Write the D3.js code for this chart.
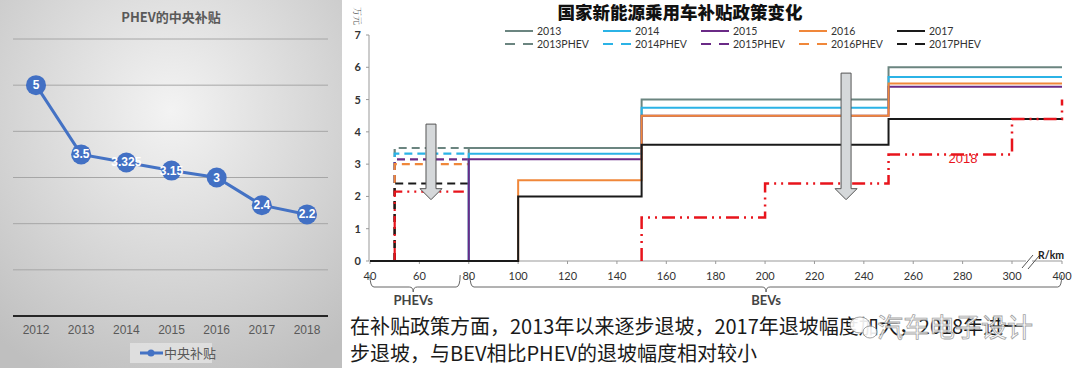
<!DOCTYPE html>
<html>
<head>
<meta charset="utf-8">
<title>PHEV subsidy</title>
<script src="https://cdn.jsdelivr.net/npm/d3@7/dist/d3.min.js"></script>
<style>
  html, body { margin:0; padding:0; background:#fff; }
  svg { display:block; }
</style>
</head>
<body>
<svg id="chart" width="1080" height="377"></svg>
<script>
// left chart: PHEV central subsidy
var years = ["2012", "2013", "2014", "2015", "2016", "2017", "2018"];
var phevSubsidy = [5, 3.5, 3.325, 3.15, 3, 2.4, 2.2];
var leftGrid = [0, 1, 2, 3, 4, 5, 6];

// right chart: subsidy steps by range (km), value in 万元
var seriesNames = ["2013", "2014", "2015", "2016", "2017", "2018"];
var bevKm2013 = [40, 80, 150, 250, 400];
var bevVal2013 = [0, 3.5, 5, 6, 6];
var bevKm2014 = [40, 80, 150, 250, 400];
var bevVal2014 = [0, 3.325, 4.75, 5.7, 5.7];
var bevKm2015 = [40, 80, 150, 250, 400];
var bevVal2015 = [0, 3.15, 4.5, 5.4, 5.4];
var bevKm2016 = [40, 100, 150, 250, 400];
var bevVal2016 = [0, 2.5, 4.5, 5.5, 5.5];
var bevKm2017 = [40, 100, 150, 250, 400];
var bevVal2017 = [0, 2, 3.6, 4.4, 4.4];
var bevKm2018 = [150, 150, 200, 250, 300, 400];
var bevVal2018 = [0, 1.35, 2.4, 3.3, 4.4, 5];
var phevStart = 50;
var phevEnd = [80, 80, 80, 80, 80, 78];
var phevVal = [3.5, 3.325, 3.15, 3.0, 2.4, 2.15];
var xTicks = [40, 60, 80, 100, 120, 140, 160, 180, 200, 220, 240, 260, 280, 300, 400];
var yTicks = [0, 1, 2, 3, 4, 5, 6, 7];

var colors = ["#6b8580", "#2bb3e6", "#6a2a86", "#f0873a", "#1a1a1a", "#e8141c"];
var redDash = "13,5,2,5,2,5";

var svg = d3.select("#chart");
var defs = svg.append("defs");

// ---------- left panel ----------
var grad = defs.append("radialGradient").attr("id", "bg")
  .attr("cx", "50%").attr("cy", "30%").attr("r", "80%");
grad.append("stop").attr("offset", "0%").attr("stop-color", "#f3f3f3");
grad.append("stop").attr("offset", "100%").attr("stop-color", "#bfbfbf");

svg.append("rect").attr("x", 0).attr("y", 0).attr("width", 342).attr("height", 368)
  .attr("fill", "url(#bg)");

var lx = d3.scalePoint().domain(years).range([36, 307]);
var ly = d3.scaleLinear().domain([0, 6]).range([316, 39]);

svg.append("text").attr("x", 171).attr("y", 22).attr("text-anchor", "middle")
  .attr("font-family", "Noto Sans CJK SC").attr("font-weight", "bold").attr("font-size", 13)
  .attr("fill", "#595959").text("PHEV的中央补贴");

svg.append("g").selectAll("line").data(leftGrid.slice(1)).join("line")
  .attr("x1", 13).attr("x2", 328)
  .attr("y1", d => ly(d)).attr("y2", d => ly(d))
  .attr("stroke", "#a6a6a6").attr("stroke-width", 1);

svg.append("line").attr("x1", 13).attr("x2", 328).attr("y1", ly(0)).attr("y2", ly(0))
  .attr("stroke", "#262626").attr("stroke-width", 2);

svg.append("g").selectAll("text").data(years).join("text")
  .attr("x", d => lx(d)).attr("y", 334).attr("text-anchor", "middle")
  .attr("font-family", "Liberation Sans").attr("font-size", 12).attr("fill", "#595959")
  .text(d => d);

var pts = years.map((y, i) => [lx(y), ly(phevSubsidy[i])]);
svg.append("path").attr("d", d3.line()(pts)).attr("fill", "none")
  .attr("stroke", "#4472c4").attr("stroke-width", 3);
svg.append("g").selectAll("circle").data(pts).join("circle")
  .attr("cx", d => d[0]).attr("cy", d => d[1]).attr("r", 10).attr("fill", "#4270c4");
svg.append("g").selectAll("text").data(phevSubsidy).join("text")
  .attr("x", (d, i) => pts[i][0]).attr("y", (d, i) => pts[i][1] + 4)
  .attr("text-anchor", "middle").attr("font-family", "Liberation Sans").attr("font-weight", "bold")
  .attr("font-size", 12).attr("fill", "#fff").text(d => d);

svg.append("rect").attr("x", 130).attr("y", 343).attr("width", 82).attr("height", 20)
  .attr("fill", "#e4e4e4").attr("opacity", 0.8);
svg.append("line").attr("x1", 140).attr("x2", 163).attr("y1", 353).attr("y2", 353)
  .attr("stroke", "#4472c4").attr("stroke-width", 3);
svg.append("circle").attr("cx", 151).attr("cy", 353).attr("r", 3.5).attr("fill", "#4472c4");
svg.append("text").attr("x", 164).attr("y", 358)
  .attr("font-family", "Noto Sans CJK SC").attr("font-size", 13).attr("fill", "#595959").text("中央补贴");

// ---------- right panel ----------
var x = d3.scaleLinear().domain([40, 300, 400]).range([370, 1012, 1062]);
var y = d3.scaleLinear().domain([0, 7]).range([261, 35]);
var step = d3.line().x(d => x(d[0])).y(d => y(d[1])).curve(d3.curveStepAfter);

svg.append("text").attr("x", 680).attr("y", 19).attr("text-anchor", "middle")
  .attr("font-family", "Noto Sans CJK SC").attr("font-weight", 900).attr("font-size", 17.5)
  .attr("fill", "#111").text("国家新能源乘用车补贴政策变化");

// legend
var legend = svg.append("g");
seriesNames.slice(0, 5).forEach(function(name, i) {
  var lx0 = 505 + i * 98;
  legend.append("line").attr("x1", lx0).attr("x2", lx0 + 28).attr("y1", 31).attr("y2", 31)
    .attr("stroke", colors[i]).attr("stroke-width", 2);
  legend.append("text").attr("x", lx0 + 32).attr("y", 35)
    .attr("font-family", "Lato").attr("font-size", 10.5).attr("fill", "#333").text(name);
  legend.append("line").attr("x1", lx0).attr("x2", lx0 + 28).attr("y1", 44).attr("y2", 44)
    .attr("stroke", colors[i]).attr("stroke-width", 2).attr("stroke-dasharray", "10,8");
  legend.append("text").attr("x", lx0 + 32).attr("y", 48)
    .attr("font-family", "Lato").attr("font-size", 10.5).attr("fill", "#333").text(name + "PHEV");
});

// axes
svg.append("line").attr("x1", 369).attr("x2", 369).attr("y1", y(7)).attr("y2", y(0))
  .attr("stroke", "#999");
svg.append("g").selectAll("line").data(yTicks).join("line")
  .attr("x1", 366).attr("x2", 369).attr("y1", d => y(d)).attr("y2", d => y(d)).attr("stroke", "#999");
svg.append("g").selectAll("text").data(yTicks).join("text")
  .attr("x", 361).attr("y", d => y(d) + 4).attr("text-anchor", "end")
  .attr("font-family", "Lato").attr("font-weight", "bold").attr("font-size", 11).attr("fill", "#333")
  .text(d => d);
svg.append("text").attr("transform", "translate(354,7) rotate(90)")
  .attr("font-family", "Noto Serif CJK SC, Noto Sans CJK SC").attr("font-size", 9).attr("fill", "#555")
  .text("万元");

svg.append("line").attr("x1", x(40)).attr("x2", x(400)).attr("y1", y(0)).attr("y2", y(0))
  .attr("stroke", "#999");
svg.append("g").selectAll("line").data(xTicks).join("line")
  .attr("x1", d => x(d)).attr("x2", d => x(d)).attr("y1", y(0)).attr("y2", y(0) + 3).attr("stroke", "#999");
svg.append("g").selectAll("text").data(xTicks).join("text")
  .attr("x", d => x(d)).attr("y", 280).attr("text-anchor", "middle")
  .attr("font-family", "Lato").attr("font-size", 11).attr("fill", "#333").text(d => d);

// axis break
svg.append("rect").attr("x", 1026).attr("y", 258).attr("width", 6).attr("height", 6).attr("fill", "#fff");
svg.append("line").attr("x1", 1022).attr("y1", 268).attr("x2", 1033).attr("y2", 255).attr("stroke", "#555");
svg.append("line").attr("x1", 1028).attr("y1", 269).attr("x2", 1039).attr("y2", 256).attr("stroke", "#555");
svg.append("text").attr("x", 1038).attr("y", 259)
  .attr("font-family", "Lato").attr("font-weight", "bold").attr("font-size", 10.5).attr("fill", "#222").text("R/km");

// BEV steps
var bevKm = [bevKm2013, bevKm2014, bevKm2015, bevKm2016, bevKm2017, bevKm2018];
var bevVal = [bevVal2013, bevVal2014, bevVal2015, bevVal2016, bevVal2017, bevVal2018];

// PHEV dashed steps
seriesNames.forEach(function(name, i) {
  var d = [[phevStart, 0], [phevStart, phevVal[i]], [phevEnd[i], phevVal[i]]];
  svg.append("path").attr("d", step(d)).attr("fill", "none")
    .attr("stroke", colors[i]).attr("stroke-width", 2.2)
    .attr("stroke-dasharray", i === 5 ? redDash : "8,5");
});

seriesNames.forEach(function(name, i) {
  var d = bevKm[i].map((k, j) => [k, bevVal[i][j]]);
  svg.append("path").attr("d", step(d)).attr("fill", "none")
    .attr("stroke", colors[i]).attr("stroke-width", i === 5 ? 2.5 : 2)
    .attr("stroke-dasharray", i === 5 ? redDash : null);
});

svg.append("text").attr("x", 963).attr("y", 163).attr("text-anchor", "middle")
  .attr("font-family", "Liberation Sans").attr("font-size", 13).attr("fill", "#e8141c").text("2018");

// down arrows
function arrow(km, top, tip) {
  var cx = x(km), y0 = y(top), y1 = y(tip);
  var p = d3.path();
  p.moveTo(cx - 5, y0); p.lineTo(cx + 5, y0); p.lineTo(cx + 5, y1 - 11);
  p.lineTo(cx + 11, y1 - 11); p.lineTo(cx, y1); p.lineTo(cx - 11, y1 - 11);
  p.lineTo(cx - 5, y1 - 11); p.closePath();
  svg.append("path").attr("d", p.toString()).attr("fill", "#d5d8da")
    .attr("stroke", "#555").attr("stroke-width", 1);
}
arrow(64.7, 4.24, 1.9);
arrow(232.8, 5.82, 1.9);

// group braces
function brace(k1, k2, kMid, label) {
  var x1 = x(k1), x2 = x(k2), m = x(kMid), t = 275, b = 287;
  var p = d3.path();
  p.moveTo(x1, t); p.quadraticCurveTo(x1, b, x1 + 4, b); p.lineTo(m - 4, b);
  p.quadraticCurveTo(m, b, m, b + 5); p.quadraticCurveTo(m, b, m + 4, b);
  p.lineTo(x2 - 4, b); p.quadraticCurveTo(x2, b, x2, t);
  svg.append("path").attr("d", p.toString()).attr("fill", "none").attr("stroke", "#666");
  svg.append("text").attr("x", m).attr("y", 305).attr("text-anchor", "middle")
    .attr("font-family", "Lato").attr("font-weight", "bold").attr("font-size", 13).attr("fill", "#444")
    .text(label);
}
brace(40, 76.5, 57.5, "PHEVs");
brace(80.5, 399.5, 200.4, "BEVs");

// caption
var cap = svg.append("g").attr("font-family", "Noto Sans CJK SC").attr("font-size", 20).attr("fill", "#1a1a1a");
cap.append("text").attr("x", 350).attr("y", 334)
  .text("在补贴政策方面，2013年以来逐步退坡，2017年退坡幅度加大，2018年进一");
cap.append("text").attr("x", 350).attr("y", 361)
  .text("步退坡，与BEV相比PHEV的退坡幅度相对较小");

// watermark
var wm = svg.append("g").attr("opacity", 0.9);
wm.append("ellipse").attr("cx", 860).attr("cy", 325).attr("rx", 10).attr("ry", 8)
  .attr("fill", "#fff").attr("stroke", "#999");
wm.append("ellipse").attr("cx", 870).attr("cy", 332).attr("rx", 7).attr("ry", 6)
  .attr("fill", "#fff").attr("stroke", "#999");
wm.append("text").attr("x", 877).attr("y", 337)
  .attr("font-family", "Noto Sans CJK SC").attr("font-size", 26).attr("fill", "#fff")
  .attr("stroke", "#9a9a9a").attr("stroke-width", 0.8).text("汽车电子设计");
</script>
</body>
</html>
